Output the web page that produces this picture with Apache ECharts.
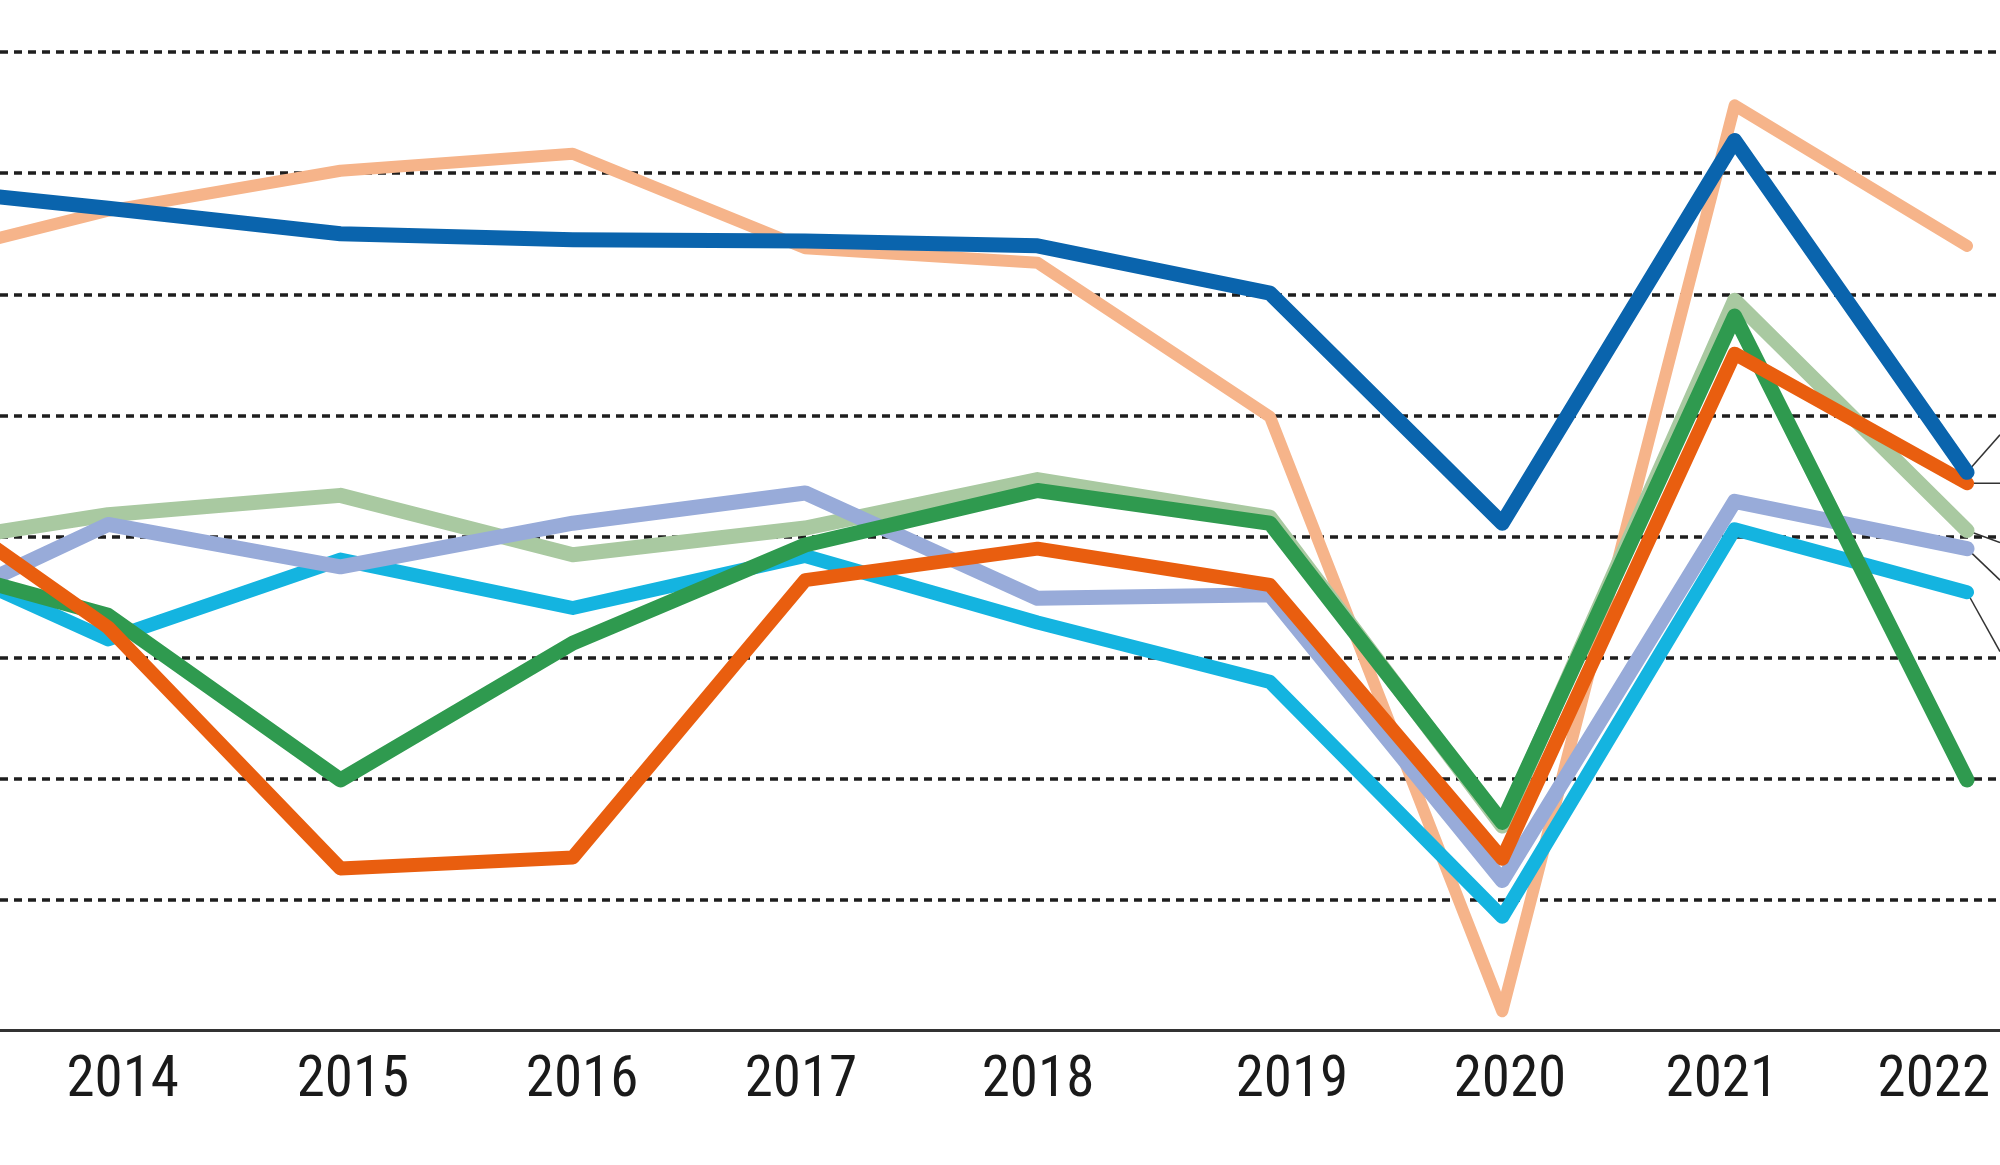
<!DOCTYPE html>
<html>
<head>
<meta charset="utf-8">
<style>
  html, body { margin: 0; padding: 0; background: #ffffff; }
  #chart { width: 2000px; height: 1165px; }
</style>
<script src="https://cdn.jsdelivr.net/npm/echarts@6/dist/echarts.min.js"></script>
</head>
<body>
<div id="chart"></div>
<script>
// ---- data (values in grid units; gridlines at integers) ----
const years = [2013, 2014, 2015, 2016, 2017, 2018, 2019, 2020, 2021, 2022];
const tickLabels = ['2014', '2015', '2016', '2017', '2018', '2019', '2020', '2021', '2022'];
const tickLabelPos = [2014.063, 2015.054, 2016.040, 2016.982, 2018.002, 2019.095, 2020.033, 2020.945, 2021.857];

const seriesBlue      = [5.91, 5.71, 5.50, 5.45, 5.44, 5.40, 5.01, 3.11, 6.27, 3.53];
const seriesPeach     = [5.21, 5.69, 6.02, 6.16, 5.38, 5.26, 3.99, -0.92, 6.56, 5.40];
const seriesLightGreen= [2.88, 3.18, 3.34, 2.85, 3.07, 3.47, 3.16, 0.61, 4.95, 3.05];
const seriesDarkGreen = [2.88, 2.35, 0.99, 2.12, 2.93, 3.38, 3.11, 0.64, 4.82, 0.99];
const seriesLavender  = [2.20, 3.10, 2.75, 3.11, 3.36, 2.49, 2.52, 0.16, 3.29, 2.90];
const seriesCyan      = [3.02, 2.15, 2.81, 2.41, 2.84, 2.29, 1.80, -0.14, 3.06, 2.54];
const seriesOrange    = [3.60, 2.25, 0.26, 0.35, 2.64, 2.90, 2.60, 0.34, 4.51, 3.44];

// leader lines toward (off-canvas) end labels: [start value, end value]
const leaderBlue       = [3.53, 3.84];
const leaderOrange     = [3.44, 3.44];
const leaderLightGreen = [3.05, 2.95];
const leaderLavender   = [2.90, 2.64];
const leaderCyan       = [2.54, 2.05];

// visible x window (the chart is cropped: 2013 lies just off the left edge)
const xMin = 2013.535, xMax = 2022.142;
const yMin = -1, yMax = 7.43;

function toData(vals) { return years.map((y, i) => [y, vals[i]]); }
function leader(v) { return [[2022, v[0]], [xMax, v[1]]]; }

const lineSeries = [
  { name: 'peach', color: '#f6b48a', width: 12, vals: seriesPeach, z: 2 },
  { name: 'lightgreen', color: '#a9c9a1', width: 15, vals: seriesLightGreen, z: 3 },
  { name: 'cyan', color: '#14b4e0', width: 14, vals: seriesCyan, z: 4 },
  { name: 'lavender', color: '#98abd9', width: 15, vals: seriesLavender, z: 5 },
  { name: 'darkgreen', color: '#2f9a4f', width: 15, vals: seriesDarkGreen, z: 6 },
  { name: 'orange', color: '#e95e0f', width: 14, vals: seriesOrange, z: 7 },
  { name: 'blue', color: '#0a64ad', width: 15, vals: seriesBlue, z: 8 }
];
const leaders = [leaderBlue, leaderOrange, leaderLightGreen, leaderLavender, leaderCyan];

const series = [];
leaders.forEach(l => series.push({
  type: 'line', data: leader(l), showSymbol: false, silent: true, z: 1, clip: true,
  lineStyle: { color: '#333333', width: 1.5 }
}));
lineSeries.forEach(s => series.push({
  type: 'line', name: s.name, data: toData(s.vals), showSymbol: false, z: s.z + 1, clip: true,
  lineStyle: { color: s.color, width: s.width, cap: 'round', join: 'round' }
}));

const chart = echarts.init(document.getElementById('chart'), null, { renderer: 'canvas' });
chart.setOption({
  animation: false,
  backgroundColor: '#ffffff',
  grid: { left: 0, right: 0, top: 0, bottom: 144, containLabel: false },
  xAxis: {
    type: 'value', min: xMin, max: xMax,
    offset: 9,
    axisLine: { show: true, onZero: false, lineStyle: { color: '#333333', width: 3 } },
    axisTick: { show: false },
    splitLine: { show: false },
    axisLabel: {
      customValues: tickLabelPos,
      formatter: function (v) {
        const idx = tickLabelPos.findIndex(p => Math.abs(p - v) < 1e-6);
        return idx >= 0 ? tickLabels[idx] : '';
      },
      margin: 23,
      fontFamily: "'Roboto Condensed', 'Liberation Sans Narrow', 'Roboto', sans-serif",
      fontSize: 57,
      color: '#1a1a1a'
    }
  },
  yAxis: {
    type: 'value', min: yMin, max: yMax, interval: 1,
    axisLine: { show: false }, axisTick: { show: false }, axisLabel: { show: false },
    splitLine: {
      show: true, showMinLine: false, showMaxLine: false,
      lineStyle: { color: '#1e1e1e', width: 3.5, type: [8, 6] }
    }
  },
  series: series
});
</script>
</body>
</html>
